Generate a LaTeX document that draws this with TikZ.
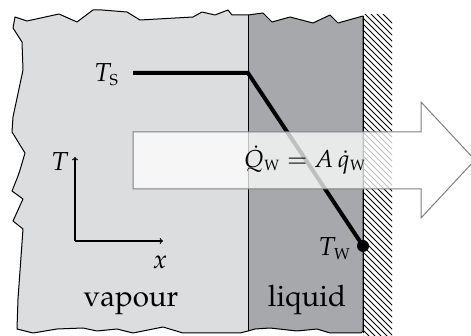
\documentclass[tikz,border=0pt]{standalone}
\usepackage[T1]{fontenc}
\usepackage{amsmath}
\usepackage{mathpazo}
\definecolor{vapcol}{HTML}{DCDDDF}
\definecolor{liqcol}{HTML}{A6A8AB}
\definecolor{arrcol}{HTML}{7F7F7F}
\tikzset{
  lbl/.style={font=\fontsize{26}{31}\selectfont, inner sep=0pt},
  flux/.style={font=\fontsize{24.5}{29}\selectfont, inner sep=0pt},
  word/.style={font=\fontsize{29.5}{35}\selectfont, inner sep=0pt},
  outline/.style={draw=black, line width=1pt, line join=round},
  profile/.style={line width=4pt, line join=miter},
  axis/.style={line width=1.2pt, -to},
  hatchline/.style={line width=1pt},
  bigarrow/.style={fill=white, fill opacity=0.75, draw=arrcol, line width=1pt, draw opacity=1}
}
\begin{document}
\begin{tikzpicture}[x=1pt,y=-1pt]
\useasboundingbox (0,0) rectangle (471,336);
% region outline
\def\outlinepath{(15,17) -- (27,21) -- (59,14) -- (77,22) -- (93,10) -- (102,10) -- (127,12) -- (140,20) -- (193,17) -- (202,12) -- (215,15) -- (228,10) -- (232,15) -- (248,15) -- (263,13) -- (272,22) -- (290,17) -- (313,23) -- (330,15) -- (338,23) -- (363,16) -- (363,331) -- (361,333) -- (330,333) -- (317,329) -- (297,331) -- (270,328) -- (255,329) -- (248,331) -- (240,333) -- (183,333) -- (163,327) -- (133,333) -- (117,329) -- (97,331) -- (83,328) -- (57,329) -- (33,333) -- (17,329) -- (18,299) -- (23,229) -- (13,221) -- (23,199) -- (12,191) -- (18,176) -- (20,170) -- (25,153) -- (12,132) -- (13,117) -- (23,70) -- (22,42) -- (13,28) -- cycle}
\fill[vapcol] \outlinepath;
\begin{scope}
  \clip (248,0) rectangle (400,336);
  \fill[liqcol] \outlinepath;
\end{scope}
\draw[outline] \outlinepath;
\coordinate (i1) at (248,15);
\coordinate (i2) at (248,331);
\draw[line width=1pt] (i1) -- (i2);
% wall hatching
\begin{scope}
  \clip (363,15) rectangle (392,336);
  \foreach \k in {-6,0,...,336} {
    \draw[hatchline] (363,\k) -- (393,\k+30);
  }
\end{scope}
\coordinate (w1) at (363,16);
\coordinate (w2) at (363,333);
\draw[line width=1pt] (w1) -- (w2);
% temperature profile
\coordinate (p0) at (133,73);
\coordinate (p1) at (248,73);
\coordinate (p2) at (363,246);
\draw[profile] (p0) -- (p1) -- (p2);
\fill (p2) circle (6);
\node[lbl, anchor=base east] (ts) at (119,82) {$T_{\textsc{s}}$};
\node[lbl, anchor=base east] (tw) at (351,256) {$T_{\textsc{w}}$};
% axes
\coordinate (o) at (75,241);
\coordinate (ty) at (75,157);
\coordinate (tx) at (163,241);
\draw[axis] (o) -- (ty);
\draw[axis] (o) -- (tx);
\node[lbl, anchor=base] (tl) at (60,171) {$T$};
\node[lbl, anchor=base] (xl) at (160,269) {$x$};
% big arrow
\draw[bigarrow] (133,132) -- (421,132) -- (421,102) -- (475,160) -- (421,218) -- (421,189) -- (133,189) -- cycle;
\node[flux] (q) at (305,160) {$\dot{Q}_{\textsc{w}} = A\,\dot{q}_{\textsc{w}}$};
% labels
\node[word, anchor=base] (vap) at (131,307) {vapour};
\node[word, anchor=base] (liq) at (307,307) {liquid};
\end{tikzpicture}
\end{document}
